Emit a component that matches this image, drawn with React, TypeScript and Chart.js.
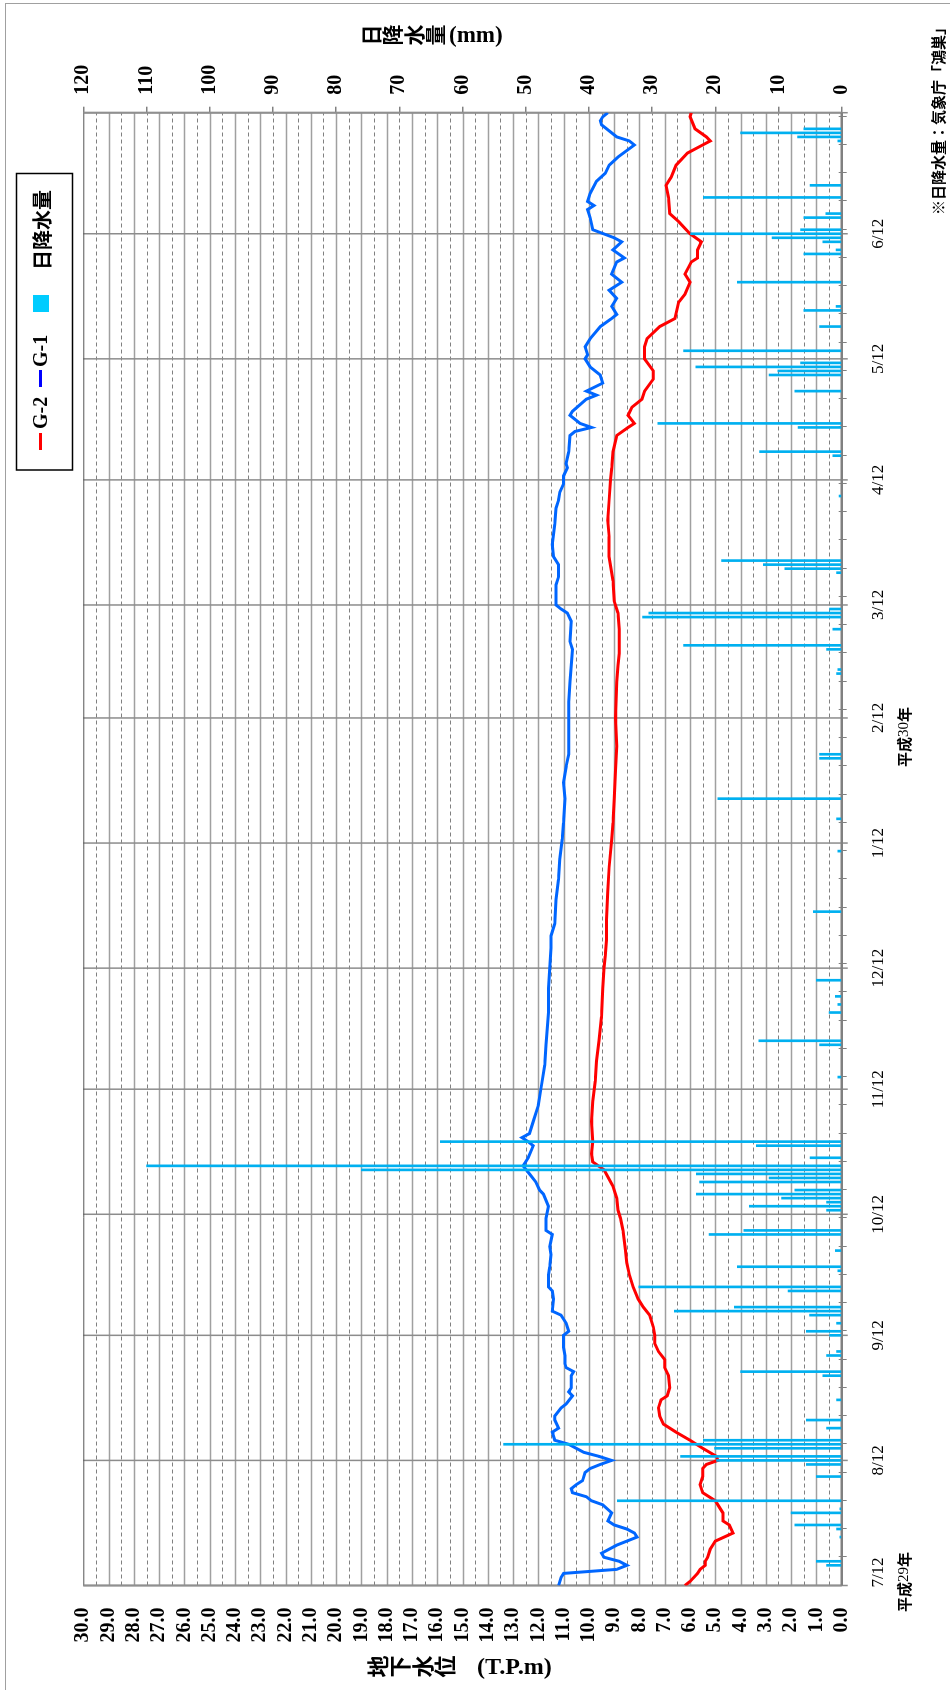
import React, { useEffect, useRef } from "react";
import { Chart, registerables } from "chart.js";
Chart.register(...registerables);

// day index counted from 2017-07-12 (平成29年7月12日)
const monthTickDays = [0, 31, 62, 92, 123, 153, 184, 215, 243, 274, 304, 335, 365];
const monthTickLabels = ["7/12", "8/12", "9/12", "10/12", "11/12", "12/12", "1/12", "2/12", "3/12", "4/12", "5/12", "6/12", ""];

const g1Days = [
  0, 2, 3, 4, 5, 6, 7, 8, 10, 12,
  13, 14, 15, 16, 18, 20, 21, 22, 23, 24,
  25, 26, 28, 29, 30, 31, 32, 33, 34, 35,
  36, 38, 39, 41, 42, 44, 45, 47, 48, 49,
  52, 53, 54, 55, 57, 59, 62, 63, 65, 67,
  68, 71, 73, 74, 77, 79, 82, 84, 87, 88,
  91, 94, 97, 98, 100, 102, 104, 106, 109, 110,
  111, 112, 115, 119, 123, 129, 134, 142, 148, 153,
  158, 161, 164, 170, 175, 180, 185, 189, 195, 199,
  203, 206, 212, 219, 224, 228, 232, 234, 239, 241,
  242, 243, 248, 250, 253, 255, 258, 263, 267, 269,
  271, 273, 275, 277, 278, 281, 285, 286, 287, 288,
  290, 291, 294, 295, 296, 298, 300, 302, 304, 305,
  307, 309, 312, 314, 315, 317, 319, 321, 323, 325,
  328, 329, 331, 333, 334, 336, 339, 341, 342, 343,
  345, 348, 350, 352, 354, 357, 358, 359, 362, 363,
  364, 365,
];
const g1Levels = [
  11.2, 11.1, 11.0, 8.9, 8.5, 8.8, 9.4, 9.5, 8.9, 8.1,
  8.2, 8.5, 9.0, 9.25, 9.1, 9.45, 9.9, 10.1, 10.65, 10.7,
  10.5, 10.25, 10.15, 9.95, 9.55, 9.1, 9.6, 10.2, 10.5, 10.8,
  11.35, 11.45, 11.2, 11.35, 11.35, 11.1, 10.9, 10.65, 10.8, 10.7,
  10.7, 10.6, 10.9, 10.95, 10.95, 11.0, 11.0, 10.8, 10.9, 11.1,
  11.45, 11.4, 11.45, 11.6, 11.6, 11.55, 11.5, 11.55, 11.45, 11.7,
  11.7, 11.6, 11.8, 11.95, 12.1, 12.35, 12.6, 12.4, 12.2, 12.4,
  12.65, 12.35, 12.2, 12.0, 11.9, 11.75, 11.7, 11.6, 11.6, 11.55,
  11.5, 11.5, 11.35, 11.3, 11.2, 11.15, 11.05, 11.0, 10.95, 11.0,
  10.9, 10.8, 10.8, 10.8, 10.75, 10.7, 10.65, 10.75, 10.7, 10.85,
  11.1, 11.3, 11.3, 11.2, 11.2, 11.4, 11.45, 11.35, 11.3, 11.2,
  11.15, 11.0, 11.0, 10.85, 10.9, 10.8, 10.75, 10.55, 9.9, 10.35,
  10.75, 10.65, 10.1, 9.7, 10.1, 9.45, 9.55, 9.95, 10.15, 10.05,
  10.15, 9.95, 9.55, 9.1, 8.9, 9.1, 8.9, 9.2, 8.7, 9.1,
  8.9, 8.6, 9.05, 8.7, 9.0, 9.85, 9.95, 10.05, 9.8, 10.05,
  9.95, 9.7, 9.35, 9.2, 8.85, 8.2, 8.4, 8.9, 9.5, 9.55,
  9.45, 9.25,
];

const g2Days = [
  0, 1, 3, 4, 5, 6, 7, 9, 10, 11,
  13, 15, 16, 18, 21, 23, 25, 27, 29, 30,
  31, 32, 34, 36, 38, 40, 42, 44, 46, 47,
  49, 52, 54, 56, 58, 60, 62, 64, 67, 69,
  71, 74, 77, 80, 83, 88, 91, 93, 96, 99,
  103, 105, 107, 110, 115, 120, 125, 130, 135, 141,
  148, 153, 156, 160, 165, 172, 178, 185, 189, 195,
  202, 208, 215, 224, 228, 231, 233, 237, 241, 244,
  249, 255, 260, 264, 269, 274, 277, 281, 285, 287,
  288, 290, 292, 294, 296, 299, 301, 304, 307, 309,
  312, 314, 318, 320, 323, 325, 328, 329, 331, 333,
  335, 338, 340, 344, 347, 349, 352, 355, 357, 358,
  359, 361, 364, 365,
];
const g2Levels = [
  6.2, 6.0, 5.7, 5.6, 5.4, 5.4, 5.3, 5.2, 5.1, 5.0,
  4.3, 4.45, 4.7, 4.7, 5.0, 5.5, 5.6, 5.5, 5.5, 5.35,
  4.9, 4.95, 5.5, 6.0, 6.55, 7.05, 7.2, 7.25, 7.15, 6.9,
  6.8, 6.85, 7.0, 7.0, 7.25, 7.4, 7.4, 7.45, 7.6, 7.85,
  8.05, 8.25, 8.4, 8.5, 8.55, 8.65, 8.75, 8.85, 8.9, 9.05,
  9.4, 9.85, 9.9, 9.85, 9.9, 9.85, 9.75, 9.7, 9.6, 9.5,
  9.45, 9.4, 9.35, 9.3, 9.3, 9.25, 9.2, 9.1, 9.05, 9.0,
  8.95, 8.9, 8.95, 8.9, 8.85, 8.8, 8.8, 8.8, 8.85, 9.0,
  9.05, 9.2, 9.2, 9.25, 9.2, 9.15, 9.1, 9.05, 8.9, 8.45,
  8.2, 8.45, 8.3, 7.9, 7.8, 7.45, 7.45, 7.8, 7.8, 7.7,
  7.2, 6.6, 6.45, 6.2, 6.0, 6.2, 5.95, 5.7, 5.7, 5.55,
  6.0, 6.45, 6.8, 6.85, 6.95, 6.75, 6.55, 6.1, 5.5, 5.2,
  5.35, 5.8, 6.0, 5.95,
];

const rainDays = [
  5, 6, 12, 14, 15, 18, 19, 21, 27, 30,
  31, 32, 34, 35, 36, 39, 41, 46, 52, 53,
  57, 58, 62, 63, 65, 67, 68, 69, 73, 74,
  78, 79, 83, 87, 88, 93, 94, 95, 96, 97,
  98, 100, 101, 102, 103, 104, 106, 109, 110, 126,
  134, 135, 142, 144, 146, 150, 167, 182, 190, 195,
  205, 206, 226, 227, 232, 233, 237, 240, 241, 242,
  251, 252, 253, 254, 270, 280, 281, 287, 288, 296,
  300, 301, 302, 303, 306, 312, 316, 317, 323, 330,
  331, 333, 334, 335, 336, 339, 340, 344, 347, 358,
  359, 360, 361,
];
const rainMm = [
  2.4, 4.0, 0.3, 0.8, 7.4, 8.0, 0.3, 35.5, 4.0, 5.6,
  19.8, 25.5, 20.1, 53.5, 21.9, 2.4, 5.6, 0.8, 3.0, 16.0,
  2.4, 0.8, 1.9, 5.6, 0.8, 5.1, 26.5, 17.0, 8.5, 32.1,
  0.6, 16.5, 1.0, 21.0, 15.5, 2.4, 14.6, 2.4, 9.5, 23.0,
  7.4, 22.5, 11.5, 23.0, 76, 110, 5.0, 13.5, 63.5, 0.6,
  3.5, 13.1, 2.0, 0.6, 1.0, 4.0, 4.5, 0.6, 0.8, 19.6,
  3.5, 3.5, 0.8, 0.6, 2.4, 25.0, 1.4, 31.5, 30.5, 1.9,
  0.8, 9.0, 12.4, 19.0, 0.4, 1.4, 13.0, 6.9, 29.1, 7.4,
  11.5, 10.1, 23.1, 6.5, 25.0, 3.5, 6.0, 0.9, 16.5, 6.0,
  0.9, 3.0, 11.0, 23.9, 6.5, 6.0, 2.5, 21.9, 5.0, 0.6,
  7.0, 16.0, 6.0,
];

const SERIF = '"Liberation Serif", "Times New Roman", serif';
const CJK = '"Noto Sans CJK JP", "Noto Sans CJK SC", sans-serif';

export default function App() {
  const canvasRef = useRef<HTMLCanvasElement | null>(null);

  useEffect(() => {
    const canvas = canvasRef.current;
    if (!canvas) return;

    const decor = {
      id: "decor",
      beforeDatasetsDraw(chart: any) {
        const { ctx, chartArea: a, scales } = chart;
        const ys = scales.y;
        const xs = scales.x;
        ctx.save();
        // level grid lines (solid at integers, dashed at halves)
        for (let i = 1; i < 60; i++) {
          const py = Math.round(ys.getPixelForValue(i / 2)) + 0.5;
          ctx.beginPath();
          if (i % 2 === 1) {
            ctx.setLineDash([4, 3]);
            ctx.strokeStyle = "#808080";
            ctx.lineWidth = 1;
          } else {
            ctx.setLineDash([]);
            ctx.strokeStyle = "#a0a0a0";
            ctx.lineWidth = 1.5;
          }
          ctx.moveTo(a.left, py);
          ctx.lineTo(a.right, py);
          ctx.stroke();
        }
        ctx.setLineDash([]);
        // month lines
        ctx.strokeStyle = "#8c8c8c";
        ctx.lineWidth = 1.5;
        monthTickDays.forEach((d) => {
          const px = xs.getPixelForValue(d);
          ctx.beginPath();
          ctx.moveTo(px, a.top);
          ctx.lineTo(px, a.bottom + 6);
          ctx.stroke();
        });
        // weekly ticks
        ctx.lineWidth = 1;
        ctx.strokeStyle = "#808080";
        for (let d = 7; d < 365; d += 7) {
          const px = Math.round(xs.getPixelForValue(d)) + 0.5;
          ctx.beginPath();
          ctx.moveTo(px, a.bottom - 3);
          ctx.lineTo(px, a.bottom + 5);
          ctx.stroke();
        }
        // frame
        ctx.strokeStyle = "#555";
        ctx.lineWidth = 1;
        ctx.beginPath();
        ctx.moveTo(a.left, a.top + 0.5);
        ctx.lineTo(a.right, a.top + 0.5);
        ctx.stroke();
        ctx.strokeStyle = "#909090";
        ctx.lineWidth = 2;
        ctx.beginPath();
        ctx.moveTo(a.left, a.top);
        ctx.lineTo(a.left, a.bottom);
        ctx.moveTo(a.right, a.top);
        ctx.lineTo(a.right, a.bottom);
        ctx.stroke();
        ctx.strokeStyle = "#808080";
        ctx.lineWidth = 2.5;
        ctx.beginPath();
        ctx.moveTo(a.left, a.bottom);
        ctx.lineTo(a.right, a.bottom);
        ctx.stroke();
        ctx.restore();
      },
      afterDraw(chart: any) {
        const { ctx, chartArea: a, scales } = chart;
        ctx.save();
        ctx.fillStyle = "#000";

        // first month label, kept inside the plot span like the original
        ctx.textAlign = "center";
        ctx.textBaseline = "top";
        ctx.font = `17px ${SERIF}`;
        ctx.fillText(monthTickLabels[0], scales.x.getPixelForValue(monthTickDays[0]) + 13, a.bottom + 28.5);

        ctx.textBaseline = "middle";

        // left axis title (vertical stacked)
        ctx.font = `bold 22px ${CJK}`;
        ["地", "下", "水", "位"].forEach((c, i) => ctx.fillText(c, 23.5, 377.5 + i * 22.5));
        ctx.save();
        ctx.translate(23.5, 477);
        ctx.rotate(Math.PI / 2);
        ctx.textAlign = "left";
        ctx.font = `bold 24px ${SERIF}`;
        ctx.fillText("(T.P.m)", 0, 1);
        ctx.restore();

        // right axis title
        ctx.font = `bold 21px ${CJK}`;
        ["日", "降", "水", "量"].forEach((c, i) => ctx.fillText(c, 1655, 371 + i * 21.3));
        ctx.save();
        ctx.translate(1655, 449);
        ctx.rotate(Math.PI / 2);
        ctx.textAlign = "left";
        ctx.font = `bold 23px ${SERIF}`;
        ctx.fillText("(mm)", 0, 1);
        ctx.restore();

        // source note
        ctx.textAlign = "left";
        ctx.font = `bold 15px ${CJK}`;
        ctx.fillText("※日降水量：気象庁「鴻巣」", 1475, 938);

        // era labels
        const era = (num: string, cx: number) => {
          const parts = [
            { t: "平成", f: `bold 15px ${CJK}` },
            { t: num, f: `15px ${SERIF}` },
            { t: "年", f: `bold 15px ${CJK}` },
          ];
          let total = 0;
          parts.forEach((p) => {
            ctx.font = p.f;
            total += ctx.measureText(p.t).width;
          });
          let x = cx - total / 2;
          parts.forEach((p) => {
            ctx.font = p.f;
            ctx.fillText(p.t, x, 904);
            x += ctx.measureText(p.t).width;
          });
        };
        era("29", 108);
        era("30", 953);

        // legend
        ctx.strokeStyle = "#000";
        ctx.lineWidth = 1.5;
        ctx.strokeRect(1220, 16.5, 296.5, 56);
        ctx.lineWidth = 3;
        ctx.strokeStyle = "#ff0000";
        ctx.beginPath();
        ctx.moveTo(1240, 40.5);
        ctx.lineTo(1257, 40.5);
        ctx.stroke();
        ctx.strokeStyle = "#0000ff";
        ctx.beginPath();
        ctx.moveTo(1303, 40.5);
        ctx.lineTo(1320, 40.5);
        ctx.stroke();
        ctx.font = `bold 20px ${SERIF}`;
        ctx.fillText("G-2", 1261, 42);
        ctx.fillText("G-1", 1323, 42);
        ctx.fillStyle = "#00ccff";
        ctx.fillRect(1378, 33, 17, 16);
        ctx.fillStyle = "#000";
        ctx.font = `bold 20px ${CJK}`;
        ctx.fillText("日降水量", 1420, 42);
        ctx.restore();
      },
    };

    const chart = new Chart(canvas, {
      type: "line",
      data: {
        datasets: [
          {
            type: "bar",
            label: "日降水量",
            data: rainDays.map((d, i) => ({ x: d, y: rainMm[i] })),
            xAxisID: "x",
            yAxisID: "y2",
            backgroundColor: "#00b0f0",
            barThickness: 2,
            order: 0,
          } as any,
          {
            type: "line",
            label: "G-2",
            data: g2Days.map((d, i) => ({ x: d, y: g2Levels[i] })),
            xAxisID: "x",
            yAxisID: "y",
            borderColor: "#ff0000",
            borderWidth: 3,
            pointRadius: 0,
            tension: 0,
            order: 1,
          },
          {
            type: "line",
            label: "G-1",
            data: g1Days.map((d, i) => ({ x: d, y: g1Levels[i] })),
            xAxisID: "x",
            yAxisID: "y",
            borderColor: "#0066ff",
            borderWidth: 3,
            pointRadius: 0,
            tension: 0,
            order: 2,
          },
        ],
      },
      options: {
        responsive: false,
        animation: false,
        devicePixelRatio: 1,
        events: [],
        layout: { padding: { top: 83.3, left: 0, right: 0, bottom: 0 } },
        plugins: { legend: { display: false }, tooltip: { enabled: false } },
        scales: {
          x: {
            type: "linear",
            min: 0,
            max: 365,
            offset: false,
            afterBuildTicks: (s: any) => {
              s.ticks = monthTickDays.map((v) => ({ value: v }));
            },
            afterFit: (s: any) => {
              s.height = 108.3;
            },
            grid: { display: false, drawTicks: false, offset: false },
            border: { display: false },
            ticks: {
              autoSkip: false,
              maxRotation: 0,
              minRotation: 0,
              padding: 27,
              color: "#000",
              font: { family: SERIF, size: 17 },
              callback: (_v: any, i: number) => (i === 0 ? "" : monthTickLabels[i] ?? ""),
            },
          },
          y: {
            type: "linear",
            position: "left",
            min: 0,
            max: 30,
            afterFit: (s: any) => {
              s.width = 104.5;
            },
            grid: { display: false, drawTicks: false },
            border: { display: false },
            ticks: {
              stepSize: 1,
              autoSkip: false,
              padding: 22,
              color: "#000",
              font: { family: SERIF, size: 20, weight: "bold" },
              callback: (v: any) => Number(v).toFixed(1),
            },
          },
          y2: {
            type: "linear",
            position: "right",
            min: 0,
            max: 120,
            afterFit: (s: any) => {
              s.width = 112.7;
            },
            grid: { drawOnChartArea: false, drawTicks: true, tickLength: 6, color: "#808080", lineWidth: 1.5 },
            border: { display: false },
            ticks: {
              stepSize: 10,
              autoSkip: false,
              padding: 12,
              color: "#000",
              font: { family: SERIF, size: 20, weight: "bold" },
            },
          },
        },
      } as any,
      plugins: [decor],
    });

    return () => chart.destroy();
  }, []);

  return (
    <div
      style={{
        position: "absolute",
        left: 0,
        top: 0,
        width: 950,
        height: 1690,
        overflow: "hidden",
        background: "#fff",
      }}
    >
      <div
        style={{
          position: "absolute",
          left: 5,
          top: 3,
          width: 1000,
          height: 1750,
          border: "1px solid #a0a0a0",
        }}
      />
      <div
        style={{
          position: "absolute",
          left: 0,
          top: 0,
          width: 1690,
          height: 950,
          transformOrigin: "0 0",
          transform: "translateY(1690px) rotate(-90deg)",
        }}
      >
        <canvas ref={canvasRef} width={1690} height={950} style={{ display: "block", width: 1690, height: 950 }} />
      </div>
    </div>
  );
}
